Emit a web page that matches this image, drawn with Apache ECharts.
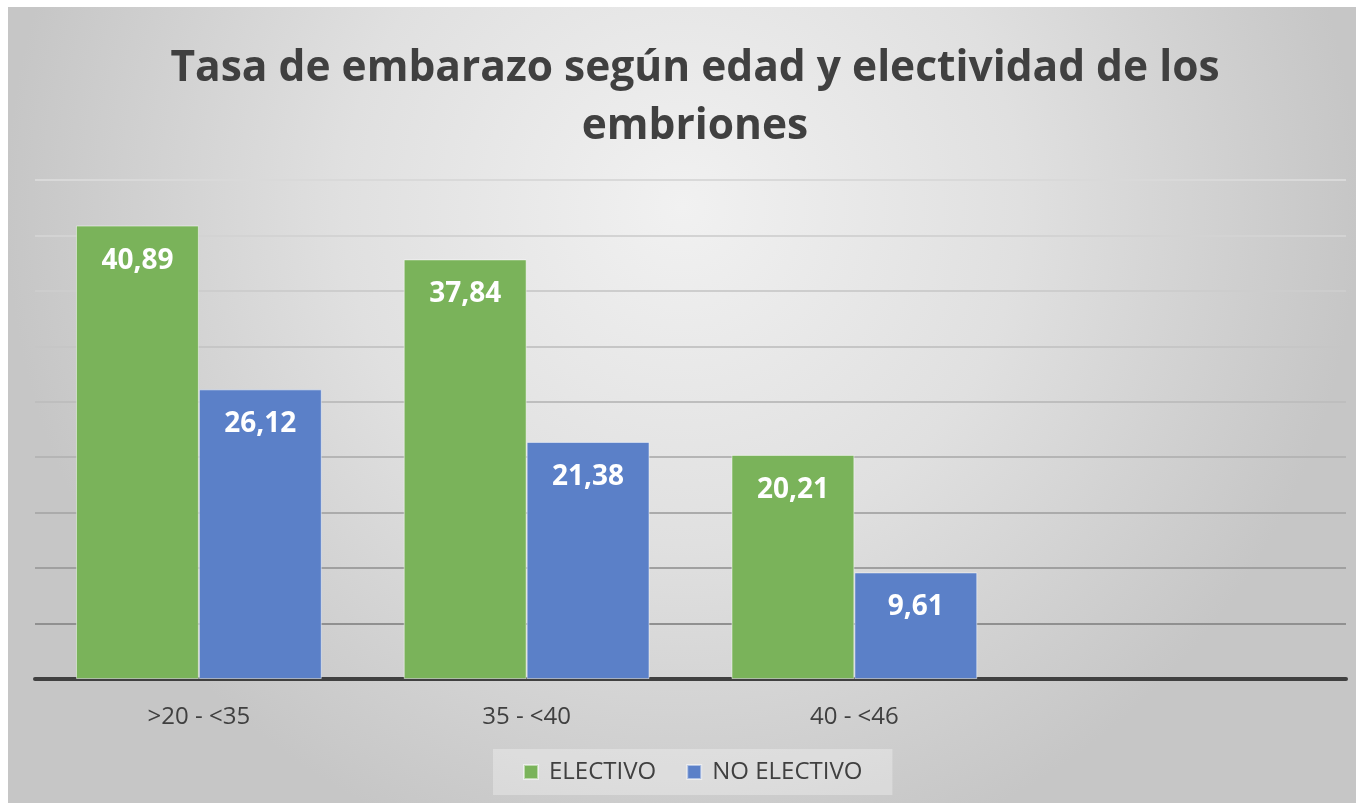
<!DOCTYPE html>
<html>
<head>
<meta charset="utf-8">
<script src="https://cdn.jsdelivr.net/npm/echarts@6/dist/echarts.min.js"></script>
<style>
  html, body { margin: 0; padding: 0; background: #fff; }
  #chart { width: 1356px; height: 803px; }
</style>
</head>
<body>
<div id="chart"></div>
<script>
// datos del gráfico
var categorias = ['>20 - <35', '35 - <40', '40 - <46', ''];
var electivo = [40.89, 37.84, 20.21, null];
var noElectivo = [26.12, 21.38, 9.61, null];
var serieNombres = ['ELECTIVO', 'NO ELECTIVO'];

var fuente = '"Open Sans", sans-serif';
var chart = echarts.init(document.getElementById('chart'));

function etiqueta(p) {
    return String(p.value).replace('.', ',');
}

var option = {
    backgroundColor: '#ffffff',
    graphic: [{
        type: 'rect',
        z: -10,
        silent: true,
        shape: { x: 8, y: 7, width: 1348, height: 796 },
        style: {
            fill: {
                type: 'radial', x: 0.5, y: 0.25, r: 0.85,
                colorStops: [
                    { offset: 0, color: '#f1f1f1' },
                    { offset: 0.5, color: '#e0e0e0' },
                    { offset: 1, color: '#c6c6c6' }
                ]
            }
        }
    }],
    title: {
        text: 'Tasa de embarazo según edad y electividad de los\nembriones',
        left: 690,
        textAlign: 'center',
        top: 35,
        textStyle: {
            fontFamily: fuente,
            fontWeight: 'bold',
            fontSize: 42.5,
            lineHeight: 58,
            color: '#404040'
        }
    },
    legend: {
        data: serieNombres,
        bottom: 8,
        left: 493,
        icon: 'rect',
        itemWidth: 14,
        itemHeight: 14,
        itemGap: 30,
        padding: [11, 30],
        backgroundColor: 'rgba(255,255,255,0.3)',
        textStyle: { fontFamily: fuente, fontSize: 24, color: '#404040', padding: [0, 0, 0, 6] }
    },
    grid: { left: 35, right: 10, top: 180, bottom: 124 },
    xAxis: {
        type: 'category',
        data: categorias,
        axisTick: { show: false },
        axisLine: { lineStyle: { color: '#404040', width: 4 } },
        axisLabel: { fontFamily: fuente, fontSize: 24, color: '#404040', margin: 26 }
    },
    yAxis: {
        type: 'value',
        min: 0,
        max: 45,
        interval: 5,
        axisLabel: { show: false },
        axisLine: { show: false },
        splitLine: {
            lineStyle: {
                width: 2,
                color: ['#8c8c8c', '#909090', '#a0a0a0', '#ababab', '#b5b5b5',
                        '#bebebe', '#c6c6c6', '#cdcdcd', '#d3d3d3', '#d9d9d9']
            }
        }
    },
    series: [{
        name: serieNombres[0],
        type: 'bar',
        data: electivo,
        barGap: '0%',
        barCategoryGap: '25%',
        itemStyle: { color: '#7ab35a', borderColor: 'rgba(255,255,255,0.5)', borderWidth: 1 },
        label: {
            show: true, position: 'insideTop', distance: 21,
            formatter: etiqueta,
            fontFamily: fuente, fontWeight: 'bold', fontSize: 28, color: '#ffffff'
        }
    }, {
        name: serieNombres[1],
        type: 'bar',
        data: noElectivo,
        itemStyle: { color: '#5b80c8', borderColor: 'rgba(255,255,255,0.5)', borderWidth: 1 },
        label: {
            show: true, position: 'insideTop', distance: 21,
            formatter: etiqueta,
            fontFamily: fuente, fontWeight: 'bold', fontSize: 28, color: '#ffffff'
        }
    }]
};
chart.setOption(option);
</script>
</body>
</html>
